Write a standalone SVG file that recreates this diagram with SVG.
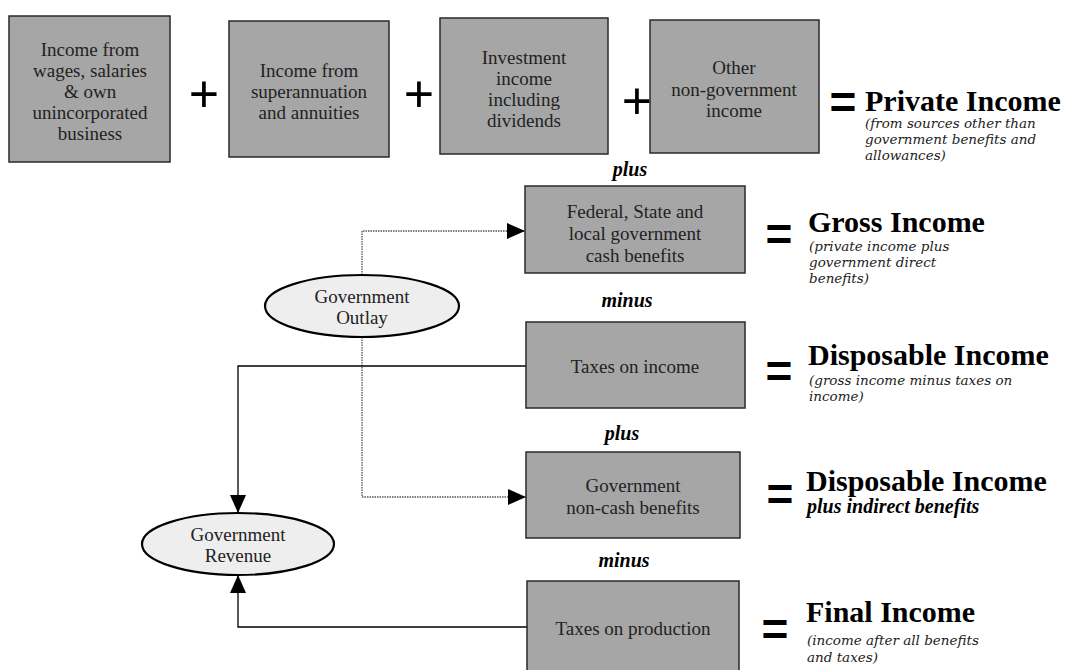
<svg xmlns="http://www.w3.org/2000/svg" width="1066" height="670" viewBox="0 0 1066 670">
<style>
.box{fill:#a6a6a6;stroke:#2a2a2a;stroke-width:1.5}
.ell{fill:#eeeeee;stroke:#000;stroke-width:2.2}
.bt{font-family:"Liberation Serif",serif;font-size:19px;fill:#222;text-anchor:middle}
.op{font-family:"Liberation Sans",sans-serif;font-size:52px;fill:#000;text-anchor:middle}
.eq{font-family:"Liberation Sans",sans-serif;font-weight:bold;font-size:46px;fill:#000;text-anchor:middle}
.ttl{font-family:"Liberation Serif",serif;font-weight:bold;font-size:30px;fill:#000}
.it{font-family:"DejaVu Serif","Liberation Serif",serif;font-style:italic;font-size:13.5px;fill:#222}
.bi{font-family:"Liberation Serif",serif;font-style:italic;font-weight:bold;font-size:20px;fill:#000}
.lbl{font-family:"Liberation Serif",serif;font-style:italic;font-weight:bold;font-size:20px;fill:#000;text-anchor:middle}
.solid{fill:none;stroke:#000;stroke-width:1.3}
.dot{fill:none;stroke:#555;stroke-width:1.3;stroke-dasharray:1.5 1}
</style>
<defs>
<marker id="arr" viewBox="0 0 18 16" refX="18" refY="8" markerWidth="18" markerHeight="16" markerUnits="userSpaceOnUse" orient="auto">
<path d="M0,0 L18,8 L0,16 z" fill="#000"/>
</marker>
</defs>

<g id="connectors">
<path class="dot" d="M362,275 V231 H525" marker-end="url(#arr)"/>
<path class="dot" d="M362,337 V497 H526" marker-end="url(#arr)"/>
<path class="solid" d="M526,366 H238 V513" marker-end="url(#arr)"/>
<path class="solid" d="M527,627 H238 V575" marker-end="url(#arr)"/>
</g>

<g id="wages">
<rect class="box" x="9" y="16" width="161" height="146"/>
<text class="bt" x="90" y="56">Income from</text>
<text class="bt" x="90" y="77">wages, salaries</text>
<text class="bt" x="90" y="98">&amp; own</text>
<text class="bt" x="90" y="119">unincorporated</text>
<text class="bt" x="90" y="140">business</text>
</g>
<text class="op" x="204" y="112">+</text>
<g id="superannuation">
<rect class="box" x="229" y="21" width="160" height="136"/>
<text class="bt" x="309" y="77">Income from</text>
<text class="bt" x="309" y="98">superannuation</text>
<text class="bt" x="309" y="119">and annuities</text>
</g>
<text class="op" x="419" y="112">+</text>
<g id="investment">
<rect class="box" x="440" y="18" width="168" height="136"/>
<text class="bt" x="524" y="64">Investment</text>
<text class="bt" x="524" y="85">income</text>
<text class="bt" x="524" y="106">including</text>
<text class="bt" x="524" y="127">dividends</text>
</g>
<text class="op" x="637" y="119">+</text>
<g id="othernongov">
<rect class="box" x="650" y="20" width="169" height="133"/>
<text class="bt" x="734" y="74">Other</text>
<text class="bt" x="734" y="96">non-government</text>
<text class="bt" x="734" y="117">income</text>
</g>
<g id="private-income">
<text class="eq" x="843" y="118">=</text>
<text class="ttl" x="865" y="111">Private Income</text>
<text class="it" x="865" y="128">(from sources other than</text>
<text class="it" x="865" y="144">government benefits and</text>
<text class="it" x="865" y="160">allowances)</text>
</g>

<text class="lbl" x="630" y="176">plus</text>
<g id="cash-benefits">
<rect class="box" x="525" y="186" width="220" height="87"/>
<text class="bt" x="635" y="218">Federal, State and</text>
<text class="bt" x="635" y="240">local government</text>
<text class="bt" x="635" y="262">cash benefits</text>
</g>
<g id="gross-income">
<text class="eq" x="779" y="250">=</text>
<text class="ttl" x="808" y="232">Gross Income</text>
<text class="it" x="809" y="251">(private income plus</text>
<text class="it" x="809" y="267">government direct</text>
<text class="it" x="809" y="283">benefits)</text>
</g>

<g id="outlay">
<ellipse class="ell" cx="362" cy="306" rx="97" ry="31"/>
<text class="bt" x="362" y="303">Government</text>
<text class="bt" x="362" y="324">Outlay</text>
</g>

<text class="lbl" x="627" y="307">minus</text>
<g id="taxes-income">
<rect class="box" x="526" y="322" width="219" height="86"/>
<text class="bt" x="635" y="373">Taxes on income</text>
</g>
<g id="disposable-income">
<text class="eq" x="779" y="387">=</text>
<text class="ttl" x="808" y="365">Disposable Income</text>
<text class="it" x="809" y="385">(gross income minus taxes on</text>
<text class="it" x="809" y="401">income)</text>
</g>

<text class="lbl" x="622" y="440">plus</text>
<g id="noncash-benefits">
<rect class="box" x="526" y="452" width="214" height="86"/>
<text class="bt" x="633" y="492">Government</text>
<text class="bt" x="633" y="514">non-cash benefits</text>
</g>
<g id="disposable-plus">
<text class="eq" x="780" y="510">=</text>
<text class="ttl" x="806" y="491">Disposable Income</text>
<text class="bi" x="807" y="513">plus indirect benefits</text>
</g>

<g id="revenue">
<ellipse class="ell" cx="238" cy="544" rx="96" ry="31"/>
<text class="bt" x="238" y="541">Government</text>
<text class="bt" x="238" y="562">Revenue</text>
</g>

<text class="lbl" x="624" y="567">minus</text>
<g id="taxes-production">
<rect class="box" x="527" y="581" width="212" height="100"/>
<text class="bt" x="633" y="635">Taxes on production</text>
</g>
<g id="final-income">
<text class="eq" x="775" y="645">=</text>
<text class="ttl" x="806" y="622">Final Income</text>
<text class="it" x="807" y="645">(income after all benefits</text>
<text class="it" x="807" y="662">and taxes)</text>
</g>
</svg>
